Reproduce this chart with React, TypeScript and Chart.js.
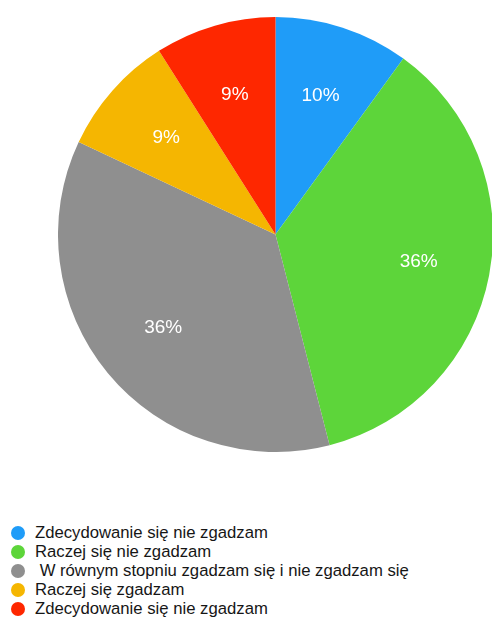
import React, { useEffect, useRef } from "react";
import { Chart, registerables } from "chart.js";

Chart.register(...registerables);

const categories = [
  "Zdecydowanie się nie zgadzam",
  "Raczej się nie zgadzam",
  " W równym stopniu zgadzam się i nie zgadzam się",
  "Raczej się zgadzam",
  "Zdecydowanie się nie zgadzam",
];
const values = [10, 36, 36, 9, 9];
const valueLabels = ["10%", "36%", "36%", "9%", "9%"];
const colors = ["#1F9CF8", "#5DD53A", "#8F8F8F", "#F5B601", "#FE2700"];

const labelPlugin = {
  id: "sliceLabels",
  afterDatasetsDraw(chart: any) {
    const ctx = chart.ctx;
    const meta = chart.getDatasetMeta(0);
    ctx.save();
    ctx.fillStyle = "#ffffff";
    ctx.font = "19px 'Liberation Sans', Arial, sans-serif";
    ctx.textAlign = "center";
    ctx.textBaseline = "middle";
    meta.data.forEach((arc: any, i: number) => {
      const p = arc.getProps(["x", "y", "startAngle", "endAngle", "outerRadius"], true);
      const mid = (p.startAngle + p.endAngle) / 2;
      const r = p.outerRadius * 0.67;
      ctx.fillText(valueLabels[i], p.x + Math.cos(mid) * r, p.y + Math.sin(mid) * r);
    });
    ctx.restore();
  },
};

export default function App() {
  const canvasRef = useRef<HTMLCanvasElement | null>(null);

  useEffect(() => {
    if (!canvasRef.current) return;
    const chart = new Chart(canvasRef.current, {
      type: "pie",
      data: {
        labels: categories,
        datasets: [
          {
            data: values,
            backgroundColor: colors,
            borderWidth: 0,
          },
        ],
      },
      options: {
        responsive: false,
        animation: false,
        layout: { padding: 0 },
        plugins: {
          legend: { display: false },
          tooltip: { enabled: false },
        },
      },
      plugins: [labelPlugin],
    });
    return () => chart.destroy();
  }, []);

  return (
    <div
      style={{
        position: "fixed",
        left: 0,
        top: 0,
        width: 492,
        height: 619,
        overflow: "hidden",
        background: "#ffffff",
        fontFamily: "'Liberation Sans', Arial, sans-serif",
      }}
    >
      <canvas
        ref={canvasRef}
        width={435}
        height={435}
        style={{ position: "absolute", left: 58, top: 17, width: 435, height: 435 }}
      />
      <div style={{ position: "absolute", left: 11, top: 523.5 }}>
        {categories.map((c, i) => (
          <div
            key={i}
            style={{
              display: "flex",
              alignItems: "center",
              height: 19,
              fontSize: 16.7,
              color: "#161616",
              whiteSpace: "pre",
            }}
          >
            <span
              style={{
                display: "inline-block",
                width: 14,
                height: 14,
                borderRadius: "50%",
                background: colors[i],
                marginRight: 10,
                flex: "none",
              }}
            />
            <span>{c}</span>
          </div>
        ))}
      </div>
    </div>
  );
}
